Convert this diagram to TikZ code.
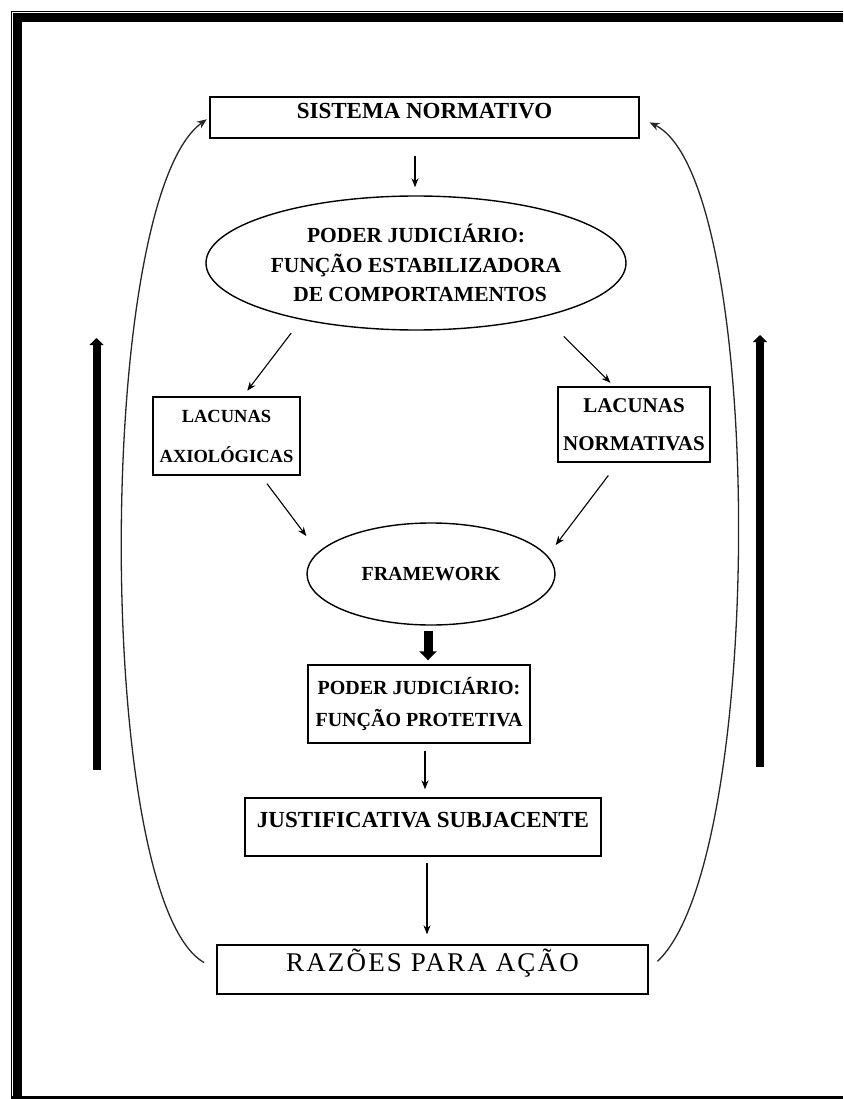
\documentclass[tikz,border=0pt]{standalone}
\usepackage{fontspec}
\setmainfont{Liberation Serif}
\usetikzlibrary{arrows.meta,shapes.geometric}
\begin{document}
\begin{tikzpicture}[x=1pt,y=-1pt,
  box/.style={draw, line width=1.4pt, inner sep=0pt, align=center,
    font=\bfseries\fontsize{20}{32}\selectfont},
  oval/.style={ellipse, draw, line width=1.4pt, inner sep=0pt, align=center,
    font=\bfseries\fontsize{21.5}{29.5}\selectfont},
  link/.style={-{Stealth[length=9pt,width=7pt]}, line width=1.1pt},
  loopline/.style={-{Stealth[length=10pt,width=8pt]}, line width=1.3pt, draw=black!85},
  fat/.style={line width=9pt, -{Triangle[width=17pt,length=9pt]}},
  side/.style={line width=8pt, -{Triangle[width=14pt,length=7pt]}}]
\useasboundingbox (0,0) rectangle (843,1099);
% frame
\fill (13,13) rectangle (843,22);
\fill (13,13) rectangle (22,1099);
\fill (11,1095.5) rectangle (843,1099);
\draw[line width=1pt] (11.5,1099) -- (11.5,11.5) -- (843,11.5);

% nodes
\node[box, minimum width=429pt, minimum height=41pt, text height=15pt, text depth=13pt,
  font=\bfseries\fontsize{23}{27}\selectfont] (sys) at (424.5,117.5) {SISTEMA NORMATIVO};
\node[oval, minimum width=420pt, minimum height=134pt] (est) at (416,263)
  {PODER JUDICIÁRIO:\\FUNÇÃO ESTABILIZADORA\\\hspace*{8pt}DE COMPORTAMENTOS};
\node[box, minimum width=147pt, minimum height=78pt,
  font=\bfseries\fontsize{18.5}{40}\selectfont] (ax) at (226.5,436) {LACUNAS\\AXIOLÓGICAS};
\node[box, minimum width=152pt, minimum height=75pt,
  font=\bfseries\fontsize{21}{38}\selectfont] (no) at (634,424.5) {LACUNAS\\NORMATIVAS};
\node[oval, minimum width=248pt, minimum height=102pt,
  font=\bfseries\fontsize{20}{24}\selectfont] (fw) at (431,574) {FRAMEWORK};
\node[box, minimum width=222pt, minimum height=78pt] (prot) at (419,704)
  {PODER JUDICIÁRIO:\\FUNÇÃO PROTETIVA};
\node[box, minimum width=356pt, minimum height=58pt, text height=15pt, text depth=14pt,
  font=\bfseries\fontsize{23}{27}\selectfont] (just) at (423,827) {JUSTIFICATIVA SUBJACENTE};
\node[box, minimum width=431pt, minimum height=49pt, text height=17.5pt, text depth=13pt,
  font=\fontsize{27}{32}\selectfont\addfontfeature{LetterSpace=8}] (raz) at (432.5,969.5) {RAZÕES PARA AÇÃO};

% connectors
\draw[link, shorten <=17pt, shorten >=8pt] (sys.south -| 415,0) -- (est.north -| 415,0);
\draw[link, shorten <=3pt, shorten >=7pt] (est.south -| 293,0) -- (ax.north -| 243,0);
\draw[link, shorten <=8pt, shorten >=5pt] (est.south -| 558,0) -- (no.north -| 614,0);
\draw[link, shorten <=10pt] (ax.south -| 261,0) -- (fw.west |- 0,536);
\draw[link, shorten <=16pt] (no.south -| 618,0) -- (fw.east |- 0,545);
\draw[fat, shorten <=5pt, shorten >=4pt] (fw.south -| 428,0) -- (prot.north -| 428,0);
\draw[link, shorten <=7pt, shorten >=8pt] (prot.south -| 425,0) -- (just.north -| 425,0);
\draw[link, shorten <=6pt, shorten >=10pt] (just.south -| 427,0) -- (raz.north -| 427,0);

% feedback loops
\draw[loopline, shorten <=14pt, shorten >=3pt] (raz.west) .. controls (94,900) and (94,200) .. (sys.west);
\draw[loopline, shorten <=12pt, shorten >=11pt] (raz.east) .. controls (766,860) and (766,180) .. (sys.east);

% side arrows
\coordinate (lb) at (96.5,770);
\coordinate (lt) at (96.5,338);
\coordinate (rb) at (760,767);
\coordinate (rt) at (760,335);
\draw[side] (lb) -- (lt);
\draw[side] (rb) -- (rt);
\end{tikzpicture}
\end{document}
